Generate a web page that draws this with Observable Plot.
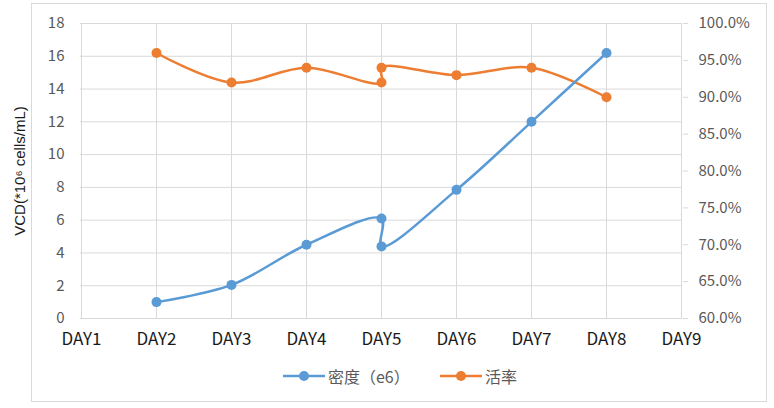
<!DOCTYPE html>
<html>
<head>
<meta charset="utf-8">
<script src="https://cdn.jsdelivr.net/npm/d3@7"></script>
<script src="https://cdn.jsdelivr.net/npm/@observablehq/plot@0.6"></script>
<style>
  html, body { margin: 0; padding: 0; background: #fff; }
  #wrap { position: relative; width: 774px; height: 408px; overflow: hidden; font-family: "Noto Sans CJK SC", "Noto Sans", sans-serif; }
  #frame { position: absolute; left: 31px; top: 3px; width: 736px; height: 399px; box-sizing: border-box; border: 1.5px solid #d9d9d9; pointer-events: none; }
  #chart { position: absolute; left: 0; top: 0; }
  .leg { position: absolute; top: 364px; height: 24px; display: flex; align-items: center; color: #595959; font-size: 16px; }
  .leg svg { margin-right: 3px; }
</style>
</head>
<body>
<div id="wrap">
  <div id="chart"></div>
  <div id="frame"></div>
  <div class="leg" style="left:283px">
    <svg width="42" height="12"><line x1="0" y1="6" x2="42" y2="6" stroke="#5B9BD5" stroke-width="2.5"/><circle cx="21" cy="6" r="5" fill="#5B9BD5"/></svg>
    <span>密度（e6）</span>
  </div>
  <div class="leg" style="left:440px">
    <svg width="42" height="12"><line x1="0" y1="6" x2="42" y2="6" stroke="#ED7D31" stroke-width="2.5"/><circle cx="21" cy="6" r="5" fill="#ED7D31"/></svg>
    <span>活率</span>
  </div>
</div>
<script>
const days = ["DAY1", "DAY2", "DAY3", "DAY4", "DAY5", "DAY6", "DAY7", "DAY8", "DAY9"];
const densityDays = ["DAY2", "DAY3", "DAY4", "DAY5", "DAY5", "DAY6", "DAY7", "DAY8"];
const densityValues = [1.0, 2.05, 4.5, 6.1, 4.4, 7.85, 12.0, 16.2];
const viabilityDays = ["DAY2", "DAY3", "DAY4", "DAY5", "DAY5", "DAY6", "DAY7", "DAY8"];
const viabilityValues = [96, 92, 94, 92, 94, 93, 94, 90];
const leftTicks = [0, 2, 4, 6, 8, 10, 12, 14, 16, 18];
const rightTicks = [60, 65, 70, 75, 80, 85, 90, 95, 100];

const leftMax = 18, rightMin = 60, rightMax = 100;
const toLeft = p => (p - rightMin) / (rightMax - rightMin) * leftMax;
const fromLeft = v => rightMin + v / leftMax * (rightMax - rightMin);

const density = densityDays.map((d, i) => ({day: d, value: densityValues[i]}));
const viability = viabilityDays.map((d, i) => ({day: d, value: toLeft(viabilityValues[i])}));

const blue = "#5B9BD5", orange = "#ED7D31", grid = "#d9d9d9";

const chart = Plot.plot({
  width: 774,
  height: 356,
  marginLeft: 80,
  marginRight: 92,
  marginTop: 23,
  marginBottom: 38,
  style: {fontFamily: "'Noto Sans CJK SC', 'Noto Sans', sans-serif", background: "transparent"},
  x: {type: "point", domain: days, padding: 0},
  y: {domain: [0, leftMax]},
  marks: [
    Plot.gridY(leftTicks, {stroke: grid, strokeOpacity: 1, strokeWidth: 1}),
    Plot.gridX(days.slice(1), {stroke: grid, strokeOpacity: 1, strokeWidth: 1}),
    Plot.ruleX([days[0], days[days.length - 1]], {stroke: grid, strokeWidth: 1}),
    Plot.ruleY([0], {stroke: grid, strokeWidth: 1.2}),
    Plot.axisY(leftTicks, {
      anchor: "left", tickSize: 0, tickPadding: 16, fontSize: 15, fill: "#595959",
      label: "VCD(*10⁶ cells/mL)", labelAnchor: "center", labelArrow: "none", labelOffset: 66
    }),
    Plot.axisY(rightTicks.map(toLeft), {
      anchor: "right", tickSize: 5, tickPadding: 11, stroke: grid, fontSize: 15, fill: "#595959",
      tickFormat: v => fromLeft(v).toFixed(1) + "%", label: null
    }),
    Plot.axisX(days, {anchor: "bottom", tickSize: 0, tickPadding: 14, fontSize: 17, fill: "#1a1a1a", label: null}),
    Plot.line(viability, {x: "day", y: "value", stroke: orange, strokeWidth: 2.5, curve: "catmull-rom"}),
    Plot.dot(viability, {x: "day", y: "value", fill: orange, r: 5}),
    Plot.line(density, {x: "day", y: "value", stroke: blue, strokeWidth: 2.5, curve: "catmull-rom"}),
    Plot.dot(density, {x: "day", y: "value", fill: blue, r: 5})
  ]
});
document.getElementById("chart").appendChild(chart);
chart.querySelectorAll("g[aria-label='y-axis label'] text").forEach(t => {
  t.setAttribute("fill", "#1a1a1a");
  t.setAttribute("font-family", "'Liberation Sans', Arial, sans-serif");
  t.setAttribute("font-size", "15");
});
</script>
</body>
</html>
